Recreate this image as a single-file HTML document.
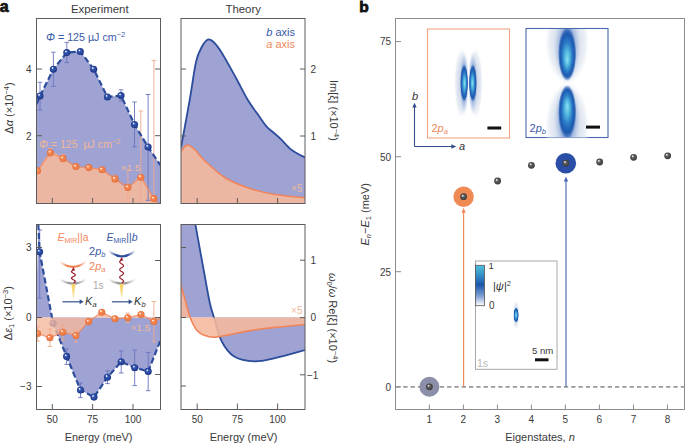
<!DOCTYPE html>
<html><head><meta charset="utf-8"><style>
html,body{margin:0;padding:0;background:#fff;width:685px;height:443px;overflow:hidden}
svg{display:block}
text{font-family:"Liberation Sans", sans-serif}
</style></head><body>
<svg width="685" height="443" viewBox="0 0 685 443">
<defs>
<radialGradient id="gB" cx="0.5" cy="0.5" r="0.5" fx="0.33" fy="0.3">
 <stop offset="0" stop-color="#ffffff"/><stop offset="0.14" stop-color="#dfe4f8"/><stop offset="0.32" stop-color="#3a5cb4"/><stop offset="0.75" stop-color="#24449a"/><stop offset="1" stop-color="#1a3280"/>
</radialGradient>
<radialGradient id="gO" cx="0.5" cy="0.5" r="0.5" fx="0.33" fy="0.3">
 <stop offset="0" stop-color="#ffffff"/><stop offset="0.14" stop-color="#fde6d8"/><stop offset="0.34" stop-color="#f48a56"/><stop offset="0.8" stop-color="#ee7a44"/><stop offset="1" stop-color="#e06a38"/>
</radialGradient>
<radialGradient id="gG" cx="0.5" cy="0.5" r="0.5" fx="0.33" fy="0.3">
 <stop offset="0" stop-color="#f8f8f8"/><stop offset="0.16" stop-color="#d0d0d0"/><stop offset="0.38" stop-color="#606060"/><stop offset="0.8" stop-color="#484848"/><stop offset="1" stop-color="#3a3a3a"/>
</radialGradient>
<radialGradient id="gHalo" cx="0.5" cy="0.5" r="0.5">
 <stop offset="0" stop-color="#c8d3e8"/><stop offset="0.5" stop-color="#dae1ee"/><stop offset="0.8" stop-color="#ecf0f6"/><stop offset="1" stop-color="#ffffff" stop-opacity="0"/>
</radialGradient>
<radialGradient id="gMid" cx="0.5" cy="0.5" r="0.5">
 <stop offset="0" stop-color="#3a70c4" stop-opacity="0.9"/><stop offset="0.45" stop-color="#5a88cc" stop-opacity="0.7"/><stop offset="0.75" stop-color="#90aedc" stop-opacity="0.4"/><stop offset="1" stop-color="#c0d0ea" stop-opacity="0"/>
</radialGradient>
<radialGradient id="gCore" cx="0.5" cy="0.5" r="0.5" fx="0.50" fy="0.50"><stop offset="0" stop-color="#8ae0ee"/><stop offset="0.25" stop-color="#56bce0"/><stop offset="0.55" stop-color="#2a78c6"/><stop offset="0.78" stop-color="#1b58ae"/><stop offset="0.9" stop-color="#2a5eb0" stop-opacity="0.6"/><stop offset="1" stop-color="#5a84c8" stop-opacity="0"/></radialGradient>
<radialGradient id="gCoreU" cx="0.5" cy="0.5" r="0.5" fx="0.50" fy="0.62"><stop offset="0" stop-color="#8ae0ee"/><stop offset="0.25" stop-color="#56bce0"/><stop offset="0.55" stop-color="#2a78c6"/><stop offset="0.78" stop-color="#1b58ae"/><stop offset="0.9" stop-color="#2a5eb0" stop-opacity="0.6"/><stop offset="1" stop-color="#5a84c8" stop-opacity="0"/></radialGradient>
<radialGradient id="gCoreD" cx="0.5" cy="0.5" r="0.5" fx="0.50" fy="0.38"><stop offset="0" stop-color="#8ae0ee"/><stop offset="0.25" stop-color="#56bce0"/><stop offset="0.55" stop-color="#2a78c6"/><stop offset="0.78" stop-color="#1b58ae"/><stop offset="0.9" stop-color="#2a5eb0" stop-opacity="0.6"/><stop offset="1" stop-color="#5a84c8" stop-opacity="0"/></radialGradient>
<radialGradient id="gCoreL" cx="0.5" cy="0.5" r="0.5" fx="0.58" fy="0.50"><stop offset="0" stop-color="#8ae0ee"/><stop offset="0.25" stop-color="#56bce0"/><stop offset="0.55" stop-color="#2a78c6"/><stop offset="0.78" stop-color="#1b58ae"/><stop offset="0.9" stop-color="#2a5eb0" stop-opacity="0.6"/><stop offset="1" stop-color="#5a84c8" stop-opacity="0"/></radialGradient>
<radialGradient id="gCoreR" cx="0.5" cy="0.5" r="0.5" fx="0.42" fy="0.50"><stop offset="0" stop-color="#8ae0ee"/><stop offset="0.25" stop-color="#56bce0"/><stop offset="0.55" stop-color="#2a78c6"/><stop offset="0.78" stop-color="#1b58ae"/><stop offset="0.9" stop-color="#2a5eb0" stop-opacity="0.6"/><stop offset="1" stop-color="#5a84c8" stop-opacity="0"/></radialGradient>
<clipPath id="cL"><rect x="440" y="30" width="28.3" height="107"/></clipPath>
<clipPath id="cR"><rect x="468.7" y="30" width="30" height="107"/></clipPath>
<clipPath id="cU"><rect x="527" y="29" width="80" height="54.8"/></clipPath>
<clipPath id="cD"><rect x="527" y="84.4" width="80" height="53"/></clipPath>
<linearGradient id="cbar" x1="0" y1="0" x2="0" y2="1">
 <stop offset="0" stop-color="#4ec0da"/><stop offset="0.2" stop-color="#3a98cc"/><stop offset="0.48" stop-color="#1a56aa"/><stop offset="0.75" stop-color="#7a9cd0"/><stop offset="1" stop-color="#ffffff"/>
</linearGradient>
<linearGradient id="arcO" x1="0" y1="0" x2="1" y2="0">
 <stop offset="0" stop-color="#f08050" stop-opacity="0"/><stop offset="0.3" stop-color="#f08050"/><stop offset="0.7" stop-color="#f08050"/><stop offset="1" stop-color="#f08050" stop-opacity="0"/>
</linearGradient>
<linearGradient id="arcB" x1="0" y1="0" x2="1" y2="0">
 <stop offset="0" stop-color="#2c4c9c" stop-opacity="0"/><stop offset="0.3" stop-color="#2c4c9c"/><stop offset="0.7" stop-color="#2c4c9c"/><stop offset="1" stop-color="#2c4c9c" stop-opacity="0"/>
</linearGradient>
<linearGradient id="arcG" x1="0" y1="0" x2="1" y2="0">
 <stop offset="0" stop-color="#999" stop-opacity="0"/><stop offset="0.35" stop-color="#9c9c9c"/><stop offset="0.65" stop-color="#9c9c9c"/><stop offset="1" stop-color="#999" stop-opacity="0"/>
</linearGradient>
<linearGradient id="cone" x1="0" y1="0" x2="0" y2="1">
 <stop offset="0" stop-color="#f8d060"/><stop offset="1" stop-color="#fcefc0"/>
</linearGradient>
<clipPath id="cTL"><rect x="36.5" y="18.5" width="124" height="185"/></clipPath>
<clipPath id="cTR"><rect x="181" y="18.5" width="124" height="185"/></clipPath>
<clipPath id="cBL"><rect x="36.5" y="224.5" width="124" height="185"/></clipPath>
<clipPath id="cBR"><rect x="181" y="224.5" width="124" height="185"/></clipPath>
<clipPath id="cPb"><rect x="526" y="28.5" width="82" height="109"/></clipPath>
<clipPath id="cPa"><rect x="427.5" y="29" width="82" height="109"/></clipPath>
</defs>

<text x="-0.3" y="11.8" font-size="16" font-weight="bold" fill="#111" stroke="#111" stroke-width="0.7">a</text>
<text x="359.2" y="11.6" font-size="15.5" font-weight="bold" fill="#111" stroke="#111" stroke-width="0.8">b</text>
<text x="99.8" y="13.2" font-size="11.4" text-anchor="middle" fill="#3a3a3a">Experiment</text>
<text x="243.2" y="13.2" font-size="11.4" text-anchor="middle" fill="#3a3a3a">Theory</text>
<g clip-path="url(#cTL)">
<path d="M36.50,104.00 L40.00,96.00 L53.40,69.20 L66.80,52.60 L80.30,51.50 L93.70,69.20 L107.40,97.00 L121.00,95.50 L134.50,124.50 L148.10,147.00 L161.00,166.00 L161,204 L36,204 Z" fill="#9ea3d3"/>
<path d="M36.50,172.50 C36.67,172.22 35.18,174.10 37.50,170.80 C39.82,167.50 46.15,154.77 50.40,152.70 C54.65,150.63 58.75,156.08 63.00,158.40 C67.25,160.72 71.60,165.07 75.90,166.60 C80.20,168.13 84.43,167.08 88.80,167.60 C93.17,168.12 97.73,167.82 102.10,169.70 C106.47,171.58 110.70,175.95 115.00,178.90 C119.30,181.85 123.60,187.68 127.90,187.40 C132.20,187.12 136.47,175.33 140.80,177.20 C145.13,179.07 150.53,193.80 153.90,198.60 C157.27,203.40 159.82,204.77 161.00,206.00 L161,204 L36,204 Z" fill="#ecb7a2"/>
<path d="M40.00,82.30 V110.00 M37.70,82.30 H42.30 M37.70,110.00 H42.30" stroke="#6c74bf" stroke-width="0.9" fill="none"/>
<path d="M53.40,52.20 V86.30 M51.10,52.20 H55.70 M51.10,86.30 H55.70" stroke="#6c74bf" stroke-width="0.9" fill="none"/>
<path d="M66.80,42.40 V62.60 M64.50,42.40 H69.10 M64.50,62.60 H69.10" stroke="#6c74bf" stroke-width="0.9" fill="none"/>
<path d="M121.00,89.80 V101.00 M118.70,89.80 H123.30 M118.70,101.00 H123.30" stroke="#6c74bf" stroke-width="0.9" fill="none"/>
<path d="M134.50,102.00 V146.80 M132.20,102.00 H136.80 M132.20,146.80 H136.80" stroke="#6c74bf" stroke-width="0.9" fill="none"/>
<path d="M148.10,94.50 V200.30 M145.80,94.50 H150.40 M145.80,200.30 H150.40" stroke="#6c74bf" stroke-width="0.9" fill="none"/>
<path d="M127.90,169.80 V206.00 M125.60,169.80 H130.20 M125.60,206.00 H130.20" stroke="#f0a98c" stroke-width="0.9" fill="none"/>
<path d="M140.80,111.00 V206.00 M138.50,111.00 H143.10 M138.50,206.00 H143.10" stroke="#f0a98c" stroke-width="0.9" fill="none"/>
<path d="M153.90,60.40 V206.00 M151.60,60.40 H156.20 M151.60,206.00 H156.20" stroke="#f0a98c" stroke-width="0.9" fill="none"/>
<path d="M50.40,148.50 V156.90 M48.10,148.50 H52.70 M48.10,156.90 H52.70" stroke="#f0a98c" stroke-width="0.9" fill="none"/>
<path d="M63.00,154.60 V162.70 M60.70,154.60 H65.30 M60.70,162.70 H65.30" stroke="#f0a98c" stroke-width="0.9" fill="none"/>
<path d="M115.00,175.40 V183.00 M112.70,175.40 H117.30 M112.70,183.00 H117.30" stroke="#f0a98c" stroke-width="0.9" fill="none"/>
<path d="M36.50,172.50 L37.50,170.80 L50.40,152.70 L63.00,158.40 L75.90,166.60 L88.80,167.60 L102.10,169.70 L115.00,178.90 L127.90,187.40 L140.80,177.20 L153.90,198.60 L161.00,206.00" fill="none" stroke="#f0845a" stroke-width="1.3" stroke-opacity="0.8"/>
<path d="M36.50,104.00 L40.00,96.00 L53.40,69.20 L66.80,52.60 L80.30,51.50 L93.70,69.20 L107.40,97.00 L121.00,95.50 L134.50,124.50 L148.10,147.00 L161.00,166.00" fill="none" stroke="#2c4c9c" stroke-width="2.2" stroke-dasharray="6 3"/>
<circle cx="37.50" cy="170.80" r="3.55" fill="url(#gO)"/>
<circle cx="50.40" cy="152.70" r="3.55" fill="url(#gO)"/>
<circle cx="63.00" cy="158.40" r="3.55" fill="url(#gO)"/>
<circle cx="75.90" cy="166.60" r="3.55" fill="url(#gO)"/>
<circle cx="88.80" cy="167.60" r="3.55" fill="url(#gO)"/>
<circle cx="102.10" cy="169.70" r="3.55" fill="url(#gO)"/>
<circle cx="115.00" cy="178.90" r="3.55" fill="url(#gO)"/>
<circle cx="127.90" cy="187.40" r="3.55" fill="url(#gO)"/>
<circle cx="140.80" cy="177.20" r="3.55" fill="url(#gO)"/>
<circle cx="153.90" cy="198.60" r="3.55" fill="url(#gO)"/>
<circle cx="40.00" cy="96.00" r="3.55" fill="url(#gB)"/>
<circle cx="53.40" cy="69.20" r="3.55" fill="url(#gB)"/>
<circle cx="66.80" cy="52.60" r="3.55" fill="url(#gB)"/>
<circle cx="80.30" cy="51.50" r="3.55" fill="url(#gB)"/>
<circle cx="93.70" cy="69.20" r="3.55" fill="url(#gB)"/>
<circle cx="107.40" cy="97.00" r="3.55" fill="url(#gB)"/>
<circle cx="121.00" cy="95.50" r="3.55" fill="url(#gB)"/>
<circle cx="134.50" cy="124.50" r="3.55" fill="url(#gB)"/>
<circle cx="148.10" cy="147.00" r="3.55" fill="url(#gB)"/>
</g>
<rect x="36.5" y="18.5" width="124" height="185" fill="none" stroke="#5c5c5c" stroke-width="1"/>
<path d="M36.5,69.0 H42 M155,69.0 H160.5" stroke="#5c5c5c" stroke-width="1"/>
<path d="M36.5,135.7 H42 M155,135.7 H160.5" stroke="#5c5c5c" stroke-width="1"/>
<path d="M52.3,203.5 V198" stroke="#5c5c5c" stroke-width="1"/>
<path d="M92.6,203.5 V198" stroke="#5c5c5c" stroke-width="1"/>
<path d="M133.0,203.5 V198" stroke="#5c5c5c" stroke-width="1"/>
<text x="31.5" y="73" font-size="10" text-anchor="end" fill="#3a3a3a">4</text>
<text x="31.5" y="139.7" font-size="10" text-anchor="end" fill="#3a3a3a">2</text>
<text transform="translate(13.3,108) rotate(-90)" font-size="11" text-anchor="middle" fill="#3a3a3a">Δ<tspan font-style="italic">α</tspan> (×10<tspan dy="-4" font-size="7.5">−4</tspan><tspan dy="4">)</tspan></text>
<text x="46" y="40.5" font-size="10.7" fill="#3a5aa8"><tspan font-style="italic">Φ</tspan> = 125 µJ cm<tspan dy="-4" font-size="7.5">−2</tspan></text>
<text x="39" y="148" font-size="10.6" fill="#f1b797"><tspan font-style="italic">Φ</tspan> = 125  µJ cm<tspan dy="-4" font-size="7.5">−2</tspan></text>
<text x="121" y="171.3" font-size="9.8" fill="#f1b797">×1.5</text>
<g clip-path="url(#cTR)">
<path d="M181.00,147.50 C182.45,139.58 187.20,114.25 189.70,100.00 C192.20,85.75 194.03,70.75 196.00,62.00 C197.97,53.25 199.53,51.23 201.50,47.50 C203.47,43.77 205.72,40.43 207.80,39.60 C209.88,38.77 211.65,40.27 214.00,42.50 C216.35,44.73 218.23,47.08 221.90,53.00 C225.57,58.92 231.65,70.12 236.00,78.00 C240.35,85.88 244.17,93.97 248.00,100.30 C251.83,106.63 255.93,111.67 259.00,116.00 C262.07,120.33 264.15,123.68 266.40,126.30 C268.65,128.92 270.13,129.62 272.50,131.70 C274.87,133.78 277.40,135.75 280.60,138.80 C283.80,141.85 287.55,146.83 291.70,150.00 C295.85,153.17 303.20,156.50 305.50,157.80 L305.5,204 L181,204 Z" fill="#9ea3d3"/>
<path d="M181.00,151.50 C182.00,150.42 184.83,145.45 187.00,145.00 C189.17,144.55 191.10,146.23 194.00,148.80 C196.90,151.37 199.15,155.53 204.40,160.40 C209.65,165.27 217.90,173.32 225.50,178.00 C233.10,182.68 241.75,185.75 250.00,188.50 C258.25,191.25 265.75,192.95 275.00,194.50 C284.25,196.05 300.42,197.25 305.50,197.80 L305.5,204 L181,204 Z" fill="#ecb7a2"/>
<path d="M181.00,151.50 C182.00,150.42 184.83,145.45 187.00,145.00 C189.17,144.55 191.10,146.23 194.00,148.80 C196.90,151.37 199.15,155.53 204.40,160.40 C209.65,165.27 217.90,173.32 225.50,178.00 C233.10,182.68 241.75,185.75 250.00,188.50 C258.25,191.25 265.75,192.95 275.00,194.50 C284.25,196.05 300.42,197.25 305.50,197.80" fill="none" stroke="#f0845a" stroke-width="1.6"/>
<path d="M181.00,147.50 C182.45,139.58 187.20,114.25 189.70,100.00 C192.20,85.75 194.03,70.75 196.00,62.00 C197.97,53.25 199.53,51.23 201.50,47.50 C203.47,43.77 205.72,40.43 207.80,39.60 C209.88,38.77 211.65,40.27 214.00,42.50 C216.35,44.73 218.23,47.08 221.90,53.00 C225.57,58.92 231.65,70.12 236.00,78.00 C240.35,85.88 244.17,93.97 248.00,100.30 C251.83,106.63 255.93,111.67 259.00,116.00 C262.07,120.33 264.15,123.68 266.40,126.30 C268.65,128.92 270.13,129.62 272.50,131.70 C274.87,133.78 277.40,135.75 280.60,138.80 C283.80,141.85 287.55,146.83 291.70,150.00 C295.85,153.17 303.20,156.50 305.50,157.80" fill="none" stroke="#2c4c9c" stroke-width="1.8"/>
</g>
<rect x="181" y="18.5" width="124" height="185" fill="none" stroke="#5c5c5c" stroke-width="1"/>
<path d="M181,69.0 H186 M300,69.0 H305" stroke="#5c5c5c" stroke-width="1"/>
<path d="M181,136.0 H186 M300,136.0 H305" stroke="#5c5c5c" stroke-width="1"/>
<path d="M197.2,203.5 V198" stroke="#5c5c5c" stroke-width="1"/>
<path d="M237.4,203.5 V198" stroke="#5c5c5c" stroke-width="1"/>
<path d="M277.6,203.5 V198" stroke="#5c5c5c" stroke-width="1"/>
<text x="310.5" y="73.3" font-size="10" fill="#3a3a3a">2</text>
<text x="310.5" y="140" font-size="10" fill="#3a3a3a">1</text>
<text transform="translate(330,110.5) rotate(90)" font-size="11" text-anchor="middle" fill="#3a3a3a">Im[ξ] (×10<tspan dy="-4" font-size="7.5">−4</tspan><tspan dy="4">)</tspan></text>
<text x="295" y="36" font-size="11" text-anchor="end" fill="#3a5aa8"><tspan font-style="italic">b</tspan> axis</text>
<text x="295" y="48" font-size="11" text-anchor="end" fill="#f0885c"><tspan font-style="italic">a</tspan> axis</text>
<text x="302.5" y="192" font-size="10" text-anchor="end" fill="#f1b797">×5</text>
<g clip-path="url(#cBL)">
<path d="M38.30,224.00 L39.60,251.80 L53.10,323.30 L66.60,356.40 L80.50,390.00 L94.00,397.10 L107.50,377.20 L121.20,361.80 L134.70,367.70 L148.20,371.40 L161.00,339.00 L161,317.5 L36,317.5 Z" fill="#9ea3d3"/>
<path d="M39.70,230.00 V298.00 M37.40,230.00 H42.00 M37.40,298.00 H42.00" stroke="#6c74bf" stroke-width="0.9" fill="none"/>
<path d="M66.60,349.00 V364.40 M64.30,349.00 H68.90 M64.30,364.40 H68.90" stroke="#6c74bf" stroke-width="0.9" fill="none"/>
<path d="M80.50,383.00 V397.60 M78.20,383.00 H82.80 M78.20,397.60 H82.80" stroke="#6c74bf" stroke-width="0.9" fill="none"/>
<path d="M107.50,370.80 V383.60 M105.20,370.80 H109.80 M105.20,383.60 H109.80" stroke="#6c74bf" stroke-width="0.9" fill="none"/>
<path d="M121.20,351.00 V373.00 M118.90,351.00 H123.50 M118.90,373.00 H123.50" stroke="#6c74bf" stroke-width="0.9" fill="none"/>
<path d="M134.70,350.00 V385.60 M132.40,350.00 H137.00 M132.40,385.60 H137.00" stroke="#6c74bf" stroke-width="0.9" fill="none"/>
<path d="M148.20,352.40 V390.70 M145.90,352.40 H150.50 M145.90,390.70 H150.50" stroke="#6c74bf" stroke-width="0.9" fill="none"/>
<path d="M38.30,224.00 L39.60,251.80 L53.10,323.30 L66.60,356.40 L80.50,390.00 L94.00,397.10 L107.50,377.20 L121.20,361.80 L134.70,367.70 L148.20,371.40 L161.00,339.00" fill="none" stroke="#2c4c9c" stroke-width="2.2" stroke-dasharray="6 3"/>
<circle cx="39.60" cy="251.80" r="3.55" fill="url(#gB)"/>
<circle cx="53.10" cy="323.30" r="3.55" fill="url(#gB)"/>
<circle cx="66.60" cy="356.40" r="3.55" fill="url(#gB)"/>
<circle cx="80.50" cy="390.00" r="3.55" fill="url(#gB)"/>
<circle cx="94.00" cy="397.10" r="3.55" fill="url(#gB)"/>
<circle cx="107.50" cy="377.20" r="3.55" fill="url(#gB)"/>
<circle cx="121.20" cy="361.80" r="3.55" fill="url(#gB)"/>
<circle cx="134.70" cy="367.70" r="3.55" fill="url(#gB)"/>
<circle cx="148.20" cy="371.40" r="3.55" fill="url(#gB)"/>
<path d="M36.00,331.00 L37.60,333.50 L49.90,337.80 L62.80,332.20 L75.90,335.60 L88.70,321.60 L101.80,312.20 L115.00,318.80 L127.80,317.80 L141.00,314.50 L153.90,321.60 L161.00,318.00 L161,317.5 L36,317.5 Z" fill="#f5b89d" fill-opacity="0.8"/>
<path d="M37.60,326.60 V341.00 M35.30,326.60 H39.90 M35.30,341.00 H39.90" stroke="#f0a98c" stroke-width="0.9" fill="none"/>
<path d="M49.90,329.00 V346.50 M47.60,329.00 H52.20 M47.60,346.50 H52.20" stroke="#f0a98c" stroke-width="0.9" fill="none"/>
<path d="M62.80,324.50 V340.30 M60.50,324.50 H65.10 M60.50,340.30 H65.10" stroke="#f0a98c" stroke-width="0.9" fill="none"/>
<path d="M75.90,330.40 V341.90 M73.60,330.40 H78.20 M73.60,341.90 H78.20" stroke="#f0a98c" stroke-width="0.9" fill="none"/>
<path d="M127.80,313.20 V322.20 M125.50,313.20 H130.10 M125.50,322.20 H130.10" stroke="#f0a98c" stroke-width="0.9" fill="none"/>
<path d="M153.90,301.50 V341.90 M151.60,301.50 H156.20 M151.60,341.90 H156.20" stroke="#f0a98c" stroke-width="0.9" fill="none"/>
<path d="M36.00,331.00 L37.60,333.50 L49.90,337.80 L62.80,332.20 L75.90,335.60 L88.70,321.60 L101.80,312.20 L115.00,318.80 L127.80,317.80 L141.00,314.50 L153.90,321.60 L161.00,318.00" fill="none" stroke="#f0845a" stroke-width="1.3" stroke-opacity="0.8"/>
<circle cx="37.60" cy="333.50" r="3.55" fill="url(#gO)"/>
<circle cx="49.90" cy="337.80" r="3.55" fill="url(#gO)"/>
<circle cx="62.80" cy="332.20" r="3.55" fill="url(#gO)"/>
<circle cx="75.90" cy="335.60" r="3.55" fill="url(#gO)"/>
<circle cx="88.70" cy="321.60" r="3.55" fill="url(#gO)"/>
<circle cx="101.80" cy="312.20" r="3.55" fill="url(#gO)"/>
<circle cx="115.00" cy="318.80" r="3.55" fill="url(#gO)"/>
<circle cx="127.80" cy="317.80" r="3.55" fill="url(#gO)"/>
<circle cx="141.00" cy="314.50" r="3.55" fill="url(#gO)"/>
<circle cx="153.90" cy="321.60" r="3.55" fill="url(#gO)"/>
</g>
<rect x="36.5" y="224.5" width="124" height="185" fill="none" stroke="#5c5c5c" stroke-width="1"/>
<path d="M36.5,247.5 H42" stroke="#5c5c5c" stroke-width="1"/>
<path d="M36.5,317.5 H42" stroke="#5c5c5c" stroke-width="1"/>
<path d="M36.5,386.5 H42" stroke="#5c5c5c" stroke-width="1"/>
<path d="M155,260.5 H160.5" stroke="#5c5c5c" stroke-width="1"/>
<path d="M155,317.5 H160.5" stroke="#5c5c5c" stroke-width="1"/>
<path d="M155,374.5 H160.5" stroke="#5c5c5c" stroke-width="1"/>
<path d="M52.3,409.5 V404" stroke="#5c5c5c" stroke-width="1"/>
<path d="M92.6,409.5 V404" stroke="#5c5c5c" stroke-width="1"/>
<path d="M133.0,409.5 V404" stroke="#5c5c5c" stroke-width="1"/>
<text x="31.5" y="251.3" font-size="10" text-anchor="end" fill="#3a3a3a">3</text>
<text x="31.5" y="321.3" font-size="10" text-anchor="end" fill="#3a3a3a">0</text>
<text x="31.5" y="390.3" font-size="10" text-anchor="end" fill="#3a3a3a">−3</text>
<text transform="translate(12,313.2) rotate(-90)" font-size="11" text-anchor="middle" fill="#3a3a3a">Δ<tspan font-style="italic">ε</tspan><tspan dy="2" font-size="7.5">1</tspan><tspan dy="-2"> (×10</tspan><tspan dy="-4" font-size="7.5">−3</tspan><tspan dy="4">)</tspan></text>
<text x="52.3" y="423" font-size="10" text-anchor="middle" fill="#3a3a3a">50</text>
<text x="92.6" y="423" font-size="10" text-anchor="middle" fill="#3a3a3a">75</text>
<text x="133.0" y="423" font-size="10" text-anchor="middle" fill="#3a3a3a">100</text>
<text x="98.6" y="440.5" font-size="11" text-anchor="middle" fill="#3a3a3a">Energy (meV)</text>
<text x="130.8" y="331.3" font-size="9.8" fill="#f1b797">×1.5</text>
<text x="57.5" y="240.5" font-size="10.5" fill="#f0885c"><tspan font-style="italic">E</tspan><tspan dy="2" font-size="7">MIR</tspan><tspan dy="-2">||a</tspan></text>
<text x="106.5" y="240.5" font-size="10.5" fill="#3a5aa8"><tspan font-style="italic">E</tspan><tspan dy="2" font-size="7">MIR</tspan><tspan dy="-2">||<tspan font-style="italic">b</tspan></tspan></text>
<text x="89" y="254.5" font-size="11" fill="#3a5aa8">2<tspan font-style="italic">p</tspan><tspan dy="2" font-size="7.5" font-style="italic">b</tspan></text>
<text x="89" y="270" font-size="11" fill="#f0885c">2<tspan font-style="italic">p</tspan><tspan dy="2" font-size="7.5" font-style="italic">a</tspan></text>
<text x="93" y="289.3" font-size="10" fill="#aaaaaa">1s</text>
<path d="M59.6,261.5 Q73.0,272.1 86.5,261.5" fill="none" stroke="url(#arcO)" stroke-width="2.1"/>
<path d="M59.6,279.5 Q73.0,287.5 86.5,279.5" fill="none" stroke="url(#arcG)" stroke-width="2.1"/>
<path d="M108.5,250.9 Q122.0,261.7 135.4,250.9" fill="none" stroke="url(#arcB)" stroke-width="2.1"/>
<path d="M108.5,279.5 Q122.0,287.5 135.4,279.5" fill="none" stroke="url(#arcG)" stroke-width="2.1"/>
<path d="M73.40,283.00 L73.99,282.68 L74.52,282.35 L74.94,282.02 L75.21,281.70 L75.30,281.38 L75.21,281.05 L74.94,280.73 L74.52,280.40 L73.99,280.07 L73.40,279.75 L72.81,279.43 L72.28,279.10 L71.86,278.77 L71.59,278.45 L71.50,278.12 L71.59,277.80 L71.86,277.48 L72.28,277.15 L72.81,276.82 L73.40,276.50 L73.99,276.18 L74.52,275.85 L74.94,275.52 L75.21,275.20 L75.30,274.88 L75.21,274.55 L74.94,274.23 L74.52,273.90 L73.99,273.57 L73.40,273.25 L72.81,272.93 L72.28,272.60 L71.86,272.27 L71.59,271.95 L71.50,271.62 L71.59,271.30 L71.86,270.98 L72.28,270.65 L72.81,270.32 L73.40,270.00" fill="none" stroke="#9a1e2e" stroke-width="1.2"/><path d="M71.60,270.50 L73.40,267.00 L75.20,270.50 Z" fill="#9a1e2e"/>
<path d="M121.60,283.00 L122.46,282.43 L123.14,281.85 L123.48,281.27 L123.41,280.70 L122.94,280.12 L122.19,279.55 L121.30,278.98 L120.48,278.40 L119.91,277.82 L119.70,277.25 L119.91,276.68 L120.48,276.10 L121.30,275.52 L122.19,274.95 L122.94,274.38 L123.41,273.80 L123.48,273.23 L123.14,272.65 L122.46,272.07 L121.60,271.50 L120.74,270.93 L120.06,270.35 L119.72,269.77 L119.79,269.20 L120.26,268.62 L121.01,268.05 L121.90,267.48 L122.72,266.90 L123.29,266.32 L123.50,265.75 L123.29,265.18 L122.72,264.60 L121.90,264.02 L121.01,263.45 L120.26,262.88 L119.79,262.30 L119.72,261.73 L120.06,261.15 L120.74,260.57 L121.60,260.00" fill="none" stroke="#9a1e2e" stroke-width="1.2"/><path d="M119.80,260.50 L121.60,257.00 L123.40,260.50 Z" fill="#9a1e2e"/>
<path d="M71.3,284 L73.4,301 L75.5,284 Z" fill="url(#cone)"/>
<path d="M119.5,284 L121.6,301 L123.7,284 Z" fill="url(#cone)"/>
<path d="M62.5,301.8 H80.6" stroke="#34508a" stroke-width="1.2"/>
<path d="M79.6,299.3 L83.6,301.8 L79.6,304.3 Z" fill="#34508a"/>
<text x="85.1" y="305" font-size="11" fill="#333"><tspan font-style="italic">K</tspan><tspan dy="2" font-size="7.5" font-style="italic">a</tspan></text>
<path d="M111.9,301.8 H129.6" stroke="#34508a" stroke-width="1.2"/>
<path d="M128.6,299.3 L132.6,301.8 L128.6,304.3 Z" fill="#34508a"/>
<text x="134.1" y="305" font-size="11" fill="#333"><tspan font-style="italic">K</tspan><tspan dy="2" font-size="7.5" font-style="italic">b</tspan></text>
<g clip-path="url(#cBR)">
<path d="M181,224 L194.3,224 L194.30,218.00 C194.95,221.67 196.63,231.33 198.20,240.00 C199.77,248.67 201.80,259.67 203.70,270.00 C205.60,280.33 207.88,294.08 209.60,302.00 C211.32,309.92 211.97,310.92 214.00,317.50 C216.03,324.08 218.43,335.00 221.80,341.50 C225.17,348.00 228.75,353.18 234.20,356.50 C239.65,359.82 247.73,361.12 254.50,361.40 C261.27,361.68 266.30,360.10 274.80,358.20 C283.30,356.30 300.38,351.37 305.50,350.00 L305.5,317.5 L181,317.5 Z" fill="#9ea3d3"/>
<path d="M194.30,218.00 C194.95,221.67 196.63,231.33 198.20,240.00 C199.77,248.67 201.80,259.67 203.70,270.00 C205.60,280.33 207.88,294.08 209.60,302.00 C211.32,309.92 211.97,310.92 214.00,317.50 C216.03,324.08 218.43,335.00 221.80,341.50 C225.17,348.00 228.75,353.18 234.20,356.50 C239.65,359.82 247.73,361.12 254.50,361.40 C261.27,361.68 266.30,360.10 274.80,358.20 C283.30,356.30 300.38,351.37 305.50,350.00" fill="none" stroke="#2c4c9c" stroke-width="1.8"/>
<path d="M180.50,284.00 C181.17,286.25 182.88,291.92 184.50,297.50 C186.12,303.08 188.12,312.00 190.20,317.50 C192.28,323.00 194.53,327.48 197.00,330.50 C199.47,333.52 202.17,334.47 205.00,335.60 C207.83,336.73 209.83,337.47 214.00,337.30 C218.17,337.13 224.00,335.72 230.00,334.60 C236.00,333.48 242.50,331.80 250.00,330.60 C257.50,329.40 265.75,328.42 275.00,327.40 C284.25,326.38 300.42,324.98 305.50,324.50 L305.5,317.5 L181,317.5 Z" fill="#f5b89d" fill-opacity="0.89"/>
<path d="M180.50,284.00 C181.17,286.25 182.88,291.92 184.50,297.50 C186.12,303.08 188.12,312.00 190.20,317.50 C192.28,323.00 194.53,327.48 197.00,330.50 C199.47,333.52 202.17,334.47 205.00,335.60 C207.83,336.73 209.83,337.47 214.00,337.30 C218.17,337.13 224.00,335.72 230.00,334.60 C236.00,333.48 242.50,331.80 250.00,330.60 C257.50,329.40 265.75,328.42 275.00,327.40 C284.25,326.38 300.42,324.98 305.50,324.50" fill="none" stroke="#f0845a" stroke-width="1.6"/>
</g>
<rect x="181" y="224.5" width="124" height="185" fill="none" stroke="#5c5c5c" stroke-width="1"/>
<path d="M181,247.5 H186" stroke="#5c5c5c" stroke-width="1"/>
<path d="M181,317.5 H186" stroke="#5c5c5c" stroke-width="1"/>
<path d="M181,386.0 H186" stroke="#5c5c5c" stroke-width="1"/>
<path d="M300,260.2 H305" stroke="#5c5c5c" stroke-width="1"/>
<path d="M300,317.6 H305" stroke="#5c5c5c" stroke-width="1"/>
<path d="M300,374.8 H305" stroke="#5c5c5c" stroke-width="1"/>
<path d="M197.2,409 V403.5" stroke="#5c5c5c" stroke-width="1"/>
<path d="M237.4,409 V403.5" stroke="#5c5c5c" stroke-width="1"/>
<path d="M277.6,409 V403.5" stroke="#5c5c5c" stroke-width="1"/>
<text x="310.5" y="264" font-size="10" fill="#3a3a3a">1</text>
<text x="310.5" y="321.4" font-size="10" fill="#3a3a3a">0</text>
<text x="307" y="378.6" font-size="10" fill="#3a3a3a">−1</text>
<text transform="translate(329,318) rotate(90)" font-size="11" text-anchor="middle" fill="#3a3a3a"><tspan font-style="italic">ω</tspan><tspan dy="2" font-size="7.5">0</tspan><tspan dy="-2">/</tspan><tspan font-style="italic">ω</tspan> Re[ξ] (×10<tspan dy="-4" font-size="7.5">−4</tspan><tspan dy="4">)</tspan></text>
<text x="197.2" y="423" font-size="10" text-anchor="middle" fill="#3a3a3a">50</text>
<text x="237.4" y="423" font-size="10" text-anchor="middle" fill="#3a3a3a">75</text>
<text x="277.6" y="423" font-size="10" text-anchor="middle" fill="#3a3a3a">100</text>
<text x="243.6" y="440.5" font-size="11" text-anchor="middle" fill="#3a3a3a">Energy (meV)</text>
<text x="302.5" y="313.5" font-size="10" text-anchor="end" fill="#f1b797">×5</text>
<rect x="395.5" y="18.5" width="289" height="391" fill="none" stroke="#8c8c8c" stroke-width="1"/>
<path d="M395.5,386.8 H401" stroke="#8c8c8c" stroke-width="1"/>
<text x="391" y="390.6" font-size="10" text-anchor="end" fill="#3a3a3a">0</text>
<path d="M395.5,271.7 H401" stroke="#8c8c8c" stroke-width="1"/>
<text x="391" y="275.5" font-size="10" text-anchor="end" fill="#3a3a3a">25</text>
<path d="M395.5,156.7 H401" stroke="#8c8c8c" stroke-width="1"/>
<text x="391" y="160.5" font-size="10" text-anchor="end" fill="#3a3a3a">50</text>
<path d="M395.5,41.6 H401" stroke="#8c8c8c" stroke-width="1"/>
<text x="391" y="45.4" font-size="10" text-anchor="end" fill="#3a3a3a">75</text>
<path d="M429.4,409.5 V404.5" stroke="#8c8c8c" stroke-width="1"/>
<text x="429.4" y="423" font-size="10" text-anchor="middle" fill="#3a3a3a">1</text>
<path d="M463.4,409.5 V404.5" stroke="#8c8c8c" stroke-width="1"/>
<text x="463.4" y="423" font-size="10" text-anchor="middle" fill="#3a3a3a">2</text>
<path d="M497.4,409.5 V404.5" stroke="#8c8c8c" stroke-width="1"/>
<text x="497.4" y="423" font-size="10" text-anchor="middle" fill="#3a3a3a">3</text>
<path d="M531.4,409.5 V404.5" stroke="#8c8c8c" stroke-width="1"/>
<text x="531.4" y="423" font-size="10" text-anchor="middle" fill="#3a3a3a">4</text>
<path d="M565.4,409.5 V404.5" stroke="#8c8c8c" stroke-width="1"/>
<text x="565.4" y="423" font-size="10" text-anchor="middle" fill="#3a3a3a">5</text>
<path d="M599.4,409.5 V404.5" stroke="#8c8c8c" stroke-width="1"/>
<text x="599.4" y="423" font-size="10" text-anchor="middle" fill="#3a3a3a">6</text>
<path d="M633.5,409.5 V404.5" stroke="#8c8c8c" stroke-width="1"/>
<text x="633.5" y="423" font-size="10" text-anchor="middle" fill="#3a3a3a">7</text>
<path d="M667.5,409.5 V404.5" stroke="#8c8c8c" stroke-width="1"/>
<text x="667.5" y="423" font-size="10" text-anchor="middle" fill="#3a3a3a">8</text>
<text x="540" y="440.5" font-size="11" text-anchor="middle" fill="#3a3a3a">Eigenstates, <tspan font-style="italic">n</tspan></text>
<text transform="translate(369,214.3) rotate(-90)" font-size="11" text-anchor="middle" fill="#3a3a3a"><tspan font-style="italic">E</tspan><tspan dy="2" font-size="7.5" font-style="italic">n</tspan><tspan dy="-2">−</tspan><tspan font-style="italic">E</tspan><tspan dy="2" font-size="7.5">1</tspan><tspan dy="-2"> (meV)</tspan></text>
<path d="M396,386.8 H684" stroke="#999999" stroke-width="1.8" stroke-dasharray="4.3 3"/>
<path d="M463.6,386.8 V211" stroke="#f08a5a" stroke-width="1.15"/>
<path d="M461.4,212.8 L463.6,207.8 L465.8,212.8 Z" fill="#f08a5a"/>
<path d="M566,386.8 V180" stroke="#4a68b4" stroke-width="1.15"/>
<path d="M563.8,181.6 L566,176.6 L568.2,181.6 Z" fill="#4a68b4"/>
<circle cx="429.4" cy="386.8" r="10" fill="#8c8fa9"/>
<circle cx="463.6" cy="196.7" r="10.2" fill="#f08a55"/>
<circle cx="565.8" cy="163.2" r="10.3" fill="#2a4ea6"/>
<circle cx="429.40" cy="386.80" r="3.40" fill="url(#gG)"/>
<circle cx="463.60" cy="196.70" r="3.40" fill="url(#gG)"/>
<circle cx="497.60" cy="181.00" r="3.40" fill="url(#gG)"/>
<circle cx="531.40" cy="165.30" r="3.40" fill="url(#gG)"/>
<circle cx="565.80" cy="163.20" r="3.40" fill="url(#gG)"/>
<circle cx="599.70" cy="162.00" r="3.40" fill="url(#gG)"/>
<circle cx="633.60" cy="157.30" r="3.40" fill="url(#gG)"/>
<circle cx="667.70" cy="155.80" r="3.40" fill="url(#gG)"/>
<rect x="427.5" y="29" width="82" height="109" fill="#fff" stroke="#f2a585" stroke-width="1.1"/>
<g clip-path="url(#cPa)">
<g clip-path="url(#cL)"><ellipse cx="461.5" cy="83" rx="7.5" ry="37" fill="url(#gHalo)"/><ellipse cx="464.1" cy="83" rx="5" ry="32" fill="url(#gMid)"/><ellipse cx="464.1" cy="83" rx="4" ry="19" fill="url(#gCoreL)"/></g>
<g clip-path="url(#cR)"><ellipse cx="475.5" cy="83" rx="7.5" ry="37" fill="url(#gHalo)"/><ellipse cx="472.9" cy="83" rx="5" ry="32" fill="url(#gMid)"/><ellipse cx="472.9" cy="83" rx="4" ry="19" fill="url(#gCoreR)"/></g>
</g>
<rect x="487.4" y="126.5" width="13.8" height="3" fill="#111"/>
<text x="431.4" y="132" font-size="11" fill="#f0885c">2<tspan font-style="italic">p</tspan><tspan dy="2" font-size="7.5" font-style="italic">a</tspan></text>
<rect x="526" y="28.5" width="82" height="109" fill="#fff" stroke="#4a68b0" stroke-width="1.1"/>
<g clip-path="url(#cPb)">
<g clip-path="url(#cU)"><ellipse cx="567.2" cy="42.0" rx="23" ry="44" fill="url(#gHalo)"/><ellipse cx="567.2" cy="48.0" rx="13.5" ry="36" fill="url(#gMid)"/><ellipse cx="567.2" cy="53.5" rx="9.2" ry="27.5" fill="url(#gCoreU)"/></g>
<g clip-path="url(#cD)"><ellipse cx="567.2" cy="125.0" rx="23" ry="44" fill="url(#gHalo)"/><ellipse cx="567.2" cy="118.0" rx="13.5" ry="36" fill="url(#gMid)"/><ellipse cx="567.2" cy="112.5" rx="9.2" ry="27.5" fill="url(#gCoreD)"/></g>
</g>
<rect x="586" y="125.6" width="14" height="3" fill="#111"/>
<text x="529.5" y="132" font-size="11" fill="#3a5aa8">2<tspan font-style="italic">p</tspan><tspan dy="2" font-size="7.5" font-style="italic">b</tspan></text>
<path d="M414.5,146.5 V106 M414.5,146.5 H452" fill="none" stroke="#34508a" stroke-width="1.1"/>
<path d="M412.3,107.5 L414.5,102.8 L416.7,107.5 Z" fill="#34508a"/>
<path d="M451.3,144.3 L456.3,146.5 L451.3,148.7 Z" fill="#34508a"/>
<text x="412" y="100.3" font-size="11" font-style="italic" fill="#333">b</text>
<text x="459" y="150.2" font-size="11" font-style="italic" fill="#333">a</text>
<rect x="475.5" y="261" width="81.5" height="108.3" fill="#fff" stroke="#a8a8a8" stroke-width="1"/>
<rect x="475.5" y="265.3" width="9" height="40.4" fill="url(#cbar)" stroke="#555" stroke-width="0.8"/>
<text x="488.5" y="268.8" font-size="9.5" fill="#3a3a3a">1</text>
<text x="489" y="308.8" font-size="10" fill="#3a3a3a">0</text>
<text x="493" y="290" font-size="11" fill="#333">|<tspan font-style="italic">ψ</tspan>|<tspan dy="-4" font-size="7.5">2</tspan></text>
<ellipse cx="516.1" cy="315" rx="3.6" ry="15" fill="url(#gHalo)"/><ellipse cx="516.1" cy="315" rx="2.7" ry="7.8" fill="url(#gCore)"/>
<text x="532" y="353.6" font-size="9.6" fill="#3a3a3a">5 nm</text>
<rect x="535" y="358.3" width="13.5" height="3" fill="#111"/>
<text x="477" y="367" font-size="10.5" fill="#b8b8b8">1s</text>
</svg></body></html>
